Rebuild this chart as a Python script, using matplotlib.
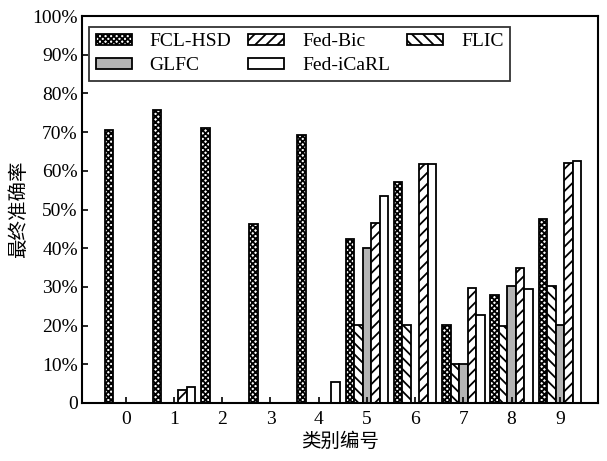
import matplotlib
matplotlib.use("Agg")
import matplotlib.pyplot as plt
import numpy as np

# Final accuracy (%) per class for each method
classes = [0, 1, 2, 3, 4, 5, 6, 7, 8, 9]
fcl_hsd   = [70.5, 75.7, 71.0, 46.3, 69.2, 42.4, 57.2, 20.1, 28.0, 47.6]
flic      = [0.0, 0.0, 0.0, 0.0, 0.0, 20.1, 20.1, 10.1, 19.9, 30.2]
glfc      = [0.0, 0.0, 0.0, 0.0, 0.0, 40.1, 0.0, 10.1, 30.2, 20.1]
fed_bic   = [0.0, 3.3, 0.0, 0.0, 0.0, 46.4, 61.7, 29.8, 34.8, 61.9]
fed_icarl = [0.0, 4.2, 0.0, 0.0, 5.5, 53.6, 61.7, 22.7, 29.4, 62.6]

ytick_vals = [0, 10, 20, 30, 40, 50, 60, 70, 80, 90, 100]
ytick_labels = ["0"] + [f"{v}%" for v in ytick_vals[1:]]

plt.rcParams["font.family"] = ["Liberation Serif", "DejaVu Serif"]
plt.rcParams["hatch.linewidth"] = 1.3
plt.rcParams["hatch.color"] = "black"

fig = plt.figure(figsize=(6.07, 4.61), dpi=100)
ax = fig.add_axes([0.135, 0.126, 0.85, 0.839])

x = np.arange(len(classes))
w = 0.176
series = [
    (fcl_hsd,   "FCL-HSD",   "white",   "xxxxxx"),
    (flic,      "FLIC",      "white",   "\\\\\\"),
    (glfc,      "GLFC",      "#b4b4b4", None),
    (fed_bic,   "Fed-Bic",   "white",   "///"),
    (fed_icarl, "Fed-iCaRL", "white",   None),
]
handles = {}
for i, (vals, name, fc, hatch) in enumerate(series):
    vals = np.array(vals)
    mask = vals > 0
    b = ax.bar(x[mask] + (i - 2) * w, vals[mask], width=w, facecolor=fc,
               edgecolor="black", linewidth=1.3, hatch=hatch, label=name)
    handles[name] = b

order = ["FCL-HSD", "GLFC", "Fed-Bic", "Fed-iCaRL", "FLIC"]
leg = ax.legend([handles[n] for n in order], order, ncol=3, loc="upper left",
                bbox_to_anchor=(0.006, 0.983), fontsize=14, frameon=True,
                fancybox=False, edgecolor="black", handlelength=1.85,
                handleheight=0.45, handletextpad=0.9, columnspacing=0.9,
                borderpad=0.35, labelspacing=0.35, borderaxespad=0.2)
leg.get_frame().set_linewidth(1.3)

ax.set_xlim(-0.91, 9.79)
ax.set_ylim(0, 100)
ax.set_xticks(x)
ax.set_xticklabels([str(c) for c in classes], fontsize=14)
ax.set_yticks(ytick_vals)
ax.set_yticklabels(ytick_labels, fontsize=14)
ax.tick_params(axis="y", direction="in", length=4, width=1.2, pad=3)
ax.tick_params(axis="x", direction="in", length=4, width=1.2, pad=6)
for s in ax.spines.values():
    s.set_linewidth(1.5)

ax.set_xlabel("类别编号", fontsize=14, family=["Noto Sans CJK SC"], labelpad=2)
ax.set_ylabel("最终准确率", fontsize=14, family=["Noto Sans CJK SC"], labelpad=2)

fig.savefig("out.png", dpi=100)
